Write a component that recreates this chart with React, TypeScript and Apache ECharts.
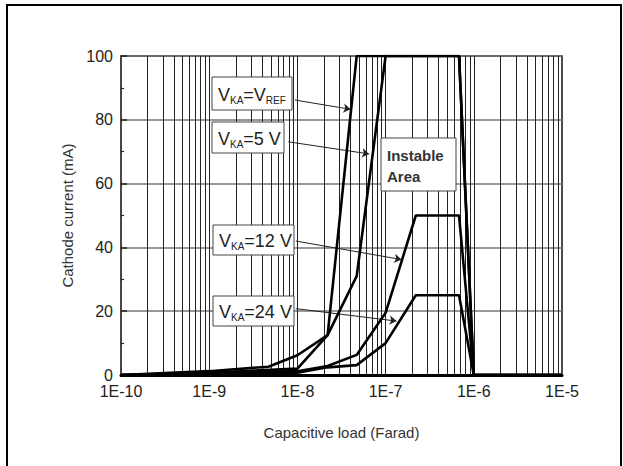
import React, { useEffect, useRef } from 'react';
import * as echarts from 'echarts';

// ---- data ----
const xMin = 1e-10;
const xMax = 1e-5;
const yTicks = [0, 20, 40, 60, 80, 100];

const vrefX = [1e-10, 1e-9, 4.7e-9, 1e-8, 2.2e-8, 4.7e-8, 6.8e-7, 1e-6, 1e-5];
const vrefY = [0, 1.2, 2.6, 6.2, 12.5, 100, 100, 0, 0];

const v5X = [1e-10, 1e-9, 1e-8, 2.2e-8, 4.7e-8, 1e-7, 6.8e-7, 1e-6, 1e-5];
const v5Y = [0, 0.7, 2.0, 12.5, 31, 100, 100, 0, 0];

const v12X = [1e-10, 1e-9, 1e-8, 2.2e-8, 4.7e-8, 1e-7, 2.2e-7, 6.8e-7, 1e-6, 1e-5];
const v12Y = [0, 0.5, 1.2, 2.8, 6.3, 19.5, 50, 50, 0, 0];

const v24X = [1e-10, 1e-9, 1e-8, 2.2e-8, 4.7e-8, 1e-7, 2.2e-7, 6.8e-7, 1e-6, 1e-5];
const v24Y = [0, 0.3, 0.7, 2.4, 3.1, 10, 25, 25, 0, 0];

// arrows: [startX, startY, endX, endY] in data units
const arrowVref = [9.35e-9, 86.2, 4.0e-8, 83.3];
const arrow5 = [7.9e-9, 73.1, 6.5e-8, 69.3];
const arrow12 = [9.6e-9, 42.0, 1.51e-7, 36.2];
const arrow24 = [9.6e-9, 20.8, 1.33e-7, 16.9];

const FONT = '"Liberation Sans", Arial, Helvetica, sans-serif';

function pairs(xs: number[], ys: number[]) {
  return xs.map((x, i) => [x, ys[i]]);
}

function minorGridValues() {
  const vals: number[] = [];
  for (let e = -10; e < -5; e++) {
    for (let m = 1; m <= 9; m++) {
      const v = m * Math.pow(10, e);
      if (v > xMin * 1.0001) vals.push(v);
    }
  }
  return vals;
}

function labelBox(x: number, y: number, w: number, h: number, text: string) {
  return {
    type: 'group',
    z: 50,
    children: [
      {
        type: 'rect',
        z: 50,
        shape: { x, y, width: w, height: h },
        style: { fill: '#fff', stroke: '#444', lineWidth: 1 },
      },
      {
        type: 'text',
        z: 51,
        x: x + 6,
        y: y + h / 2 + 1,
        style: {
          text,
          align: 'left',
          verticalAlign: 'middle',
          fill: '#222',
          rich: {
            v: { fontSize: 18, fontFamily: FONT, fill: '#222', lineHeight: 21 },
            s: { fontSize: 10, fontFamily: FONT, fill: '#222', verticalAlign: 'bottom' },
          },
        },
      },
    ],
  };
}

function arrowLine(a: number[]) {
  return [
    { coord: [a[0], a[1]], symbol: 'none' },
    { coord: [a[2], a[3]], symbol: 'arrow' },
  ];
}

export default function App() {
  const ref = useRef<HTMLDivElement>(null);

  useEffect(() => {
    if (!ref.current) return;
    const chart = echarts.init(ref.current, undefined, { renderer: 'svg' });

    const lineSeries = (name: string, data: number[][]) => ({
      name,
      type: 'line',
      data,
      showSymbol: false,
      symbol: 'none',
      lineStyle: { color: '#000', width: 2.6 },
      z: 5,
      silent: true,
    });

    const yLo = yTicks[0];
    const yHi = yTicks[yTicks.length - 1];

    chart.setOption({
      animation: false,
      backgroundColor: '#fff',
      grid: {
        left: 121,
        right: 61,
        top: 56,
        bottom: 91,
        show: true,
        borderColor: '#111',
        borderWidth: 1.5,
        backgroundColor: 'transparent',
        containLabel: false,
      },
      xAxis: {
        type: 'log',
        logBase: 10,
        min: xMin,
        max: xMax,
        name: 'Capacitive load (Farad)',
        nameLocation: 'middle',
        nameGap: 50,
        nameTextStyle: { fontFamily: FONT, fontSize: 15, color: '#333' },
        axisLine: { show: true, lineStyle: { color: '#000', width: 3 } },
        axisTick: { show: false },
        splitLine: { show: false },
        axisLabel: {
          fontFamily: FONT,
          fontSize: 16,
          lineHeight: 16,
          color: '#222',
          margin: 8,
          formatter: (v: number) => '1E' + Math.round(Math.log10(v)),
        },
      },
      yAxis: {
        type: 'value',
        min: yLo,
        max: yHi,
        interval: 20,
        name: 'Cathode current (mA)',
        nameLocation: 'middle',
        nameGap: 44,
        nameTextStyle: { fontFamily: FONT, fontSize: 15, color: '#333' },
        axisLine: { show: true, lineStyle: { color: '#444', width: 1.5 } },
        axisTick: { show: true, inside: true, length: 6, lineStyle: { color: '#222', width: 1.5 } },
        minorTick: { show: true, splitNumber: 2, length: 3, lineStyle: { color: '#222', width: 1.2 } },
        splitLine: { show: true, lineStyle: { color: '#777', width: 1.5 } },
        axisLabel: { fontFamily: FONT, fontSize: 16, lineHeight: 15, color: '#222', margin: 8 },
      },
      series: [
        {
          name: 'grid',
          type: 'line',
          data: [],
          z: 1,
          silent: true,
          markLine: {
            silent: true,
            animation: false,
            symbol: ['none', 'none'],
            label: { show: false },
            lineStyle: { color: '#222', width: 1, type: 'solid' },
            data: minorGridValues().map((v) => [
              { coord: [v, yLo], symbol: 'none' },
              { coord: [v, yHi], symbol: 'none' },
            ]),
          },
        },
        lineSeries('VKA=VREF', pairs(vrefX, vrefY)),
        lineSeries('VKA=5 V', pairs(v5X, v5Y)),
        lineSeries('VKA=12 V', pairs(v12X, v12Y)),
        lineSeries('VKA=24 V', pairs(v24X, v24Y)),
        {
          name: 'arrows',
          type: 'line',
          data: [],
          z: 6,
          silent: true,
          markLine: {
            silent: true,
            animation: false,
            symbolSize: 7,
            label: { show: false },
            lineStyle: { color: '#222', width: 1, type: 'solid' },
            data: [arrowLine(arrowVref), arrowLine(arrow5), arrowLine(arrow12), arrowLine(arrow24)],
          },
        },
      ],
      graphic: [
        {
          type: 'rect',
          shape: { x: 7, y: 5, width: 614, height: 520 },
          style: { fill: 'none', stroke: '#000', lineWidth: 2 },
          z: 100,
        },
        labelBox(212, 77, 80, 33, '{v|V}{s|KA}{v|=V}{s|REF}'),
        labelBox(212, 122, 72, 31, '{v|V}{s|KA}{v|=5 V}'),
        labelBox(213, 225, 81, 30, '{v|V}{s|KA}{v|=12 V}'),
        labelBox(213, 296, 81, 30, '{v|V}{s|KA}{v|=24 V}'),
        {
          type: 'group',
          z: 50,
          children: [
            {
              type: 'rect',
              z: 50,
              shape: { x: 381, y: 138, width: 75, height: 53 },
              style: { fill: '#fff', stroke: '#444', lineWidth: 1 },
            },
            {
              type: 'text',
              z: 51,
              x: 387,
              y: 165.5,
              style: {
                text: 'Instable\nArea',
                align: 'left',
                verticalAlign: 'middle',
                fill: '#333',
                font: 'bold 15px ' + FONT,
                lineHeight: 21,
              },
            },
          ],
        },
      ],
    });

    return () => chart.dispose();
  }, []);

  return (
    <div
      ref={ref}
      style={{ position: 'fixed', left: 0, top: 0, width: 623, height: 466, background: '#fff' }}
    />
  );
}
